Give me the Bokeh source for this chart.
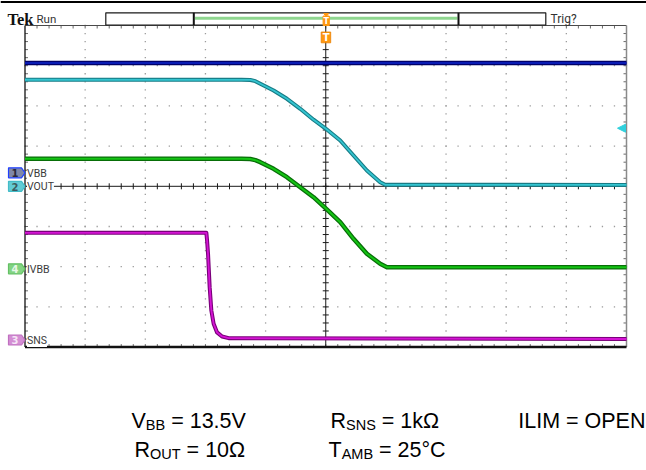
import numpy as np
from bokeh.plotting import figure
from bokeh.models import Range1d
from bokeh.core.properties import value
from bokeh.embed import file_html
from bokeh.resources import INLINE

# ---- waveform data (time and amplitude in screen divisions) ----
vbb_t = [-5.0, 5.0]
vbb_v = [3.07, 3.07]

vout_t = [-5.0, -1.40, -1.254, -1.17, -1.088, -0.867, -0.645, -0.424, -0.203,
          0.003, 0.241, 0.462, 0.684, 0.905, 0.988, 5.0]
vout_v = [2.65, 2.649, 2.645, 2.615, 2.550, 2.383, 2.177, 1.928, 1.657,
          1.430, 1.139, 0.766, 0.393, 0.102, 0.037, 0.035]

ivbb_t = [-5.0, -1.40, -1.254, -1.17, -1.088, -0.867, -0.645, -0.424, -0.203,
          0.008, 0.241, 0.462, 0.684, 0.905, 1.017, 5.0]
ivbb_v = [0.684, 0.684, 0.680, 0.650, 0.600, 0.435, 0.226, -0.022, -0.271,
          -0.560, -0.893, -1.306, -1.679, -1.928, -2.012, -2.012]

sns_t = [-5.0, -1.985, -1.973, -1.957, -1.930, -1.902, -1.864, -1.807, -1.724,
         -1.615, 5.0]
sns_v = [-1.157, -1.157, -1.348, -1.679, -2.510, -3.090, -3.420, -3.634, -3.736,
         -3.778, -3.799]

# channel ground markers: (number, name, offset in divisions)
channels = [("1", "VBB", 0.336), ("2", "VOUT", 0.0), ("4", "IVBB", -2.052), ("3", "SNS", -3.823)]
trigger_level = 1.445

# ---- canvas geometry ----
W, H = 646, 470
GL, GR, GT, GB = 24.5, 626.0, 25.0, 346.6
PPX = (GR - GL) / 10.0
PPY = (GB - GT) / 8.0
CY = (GT + GB) / 2.0

p = figure(width=W, height=H, x_range=Range1d(0, W), y_range=Range1d(H, 0),
           x_axis_type=None, y_axis_type=None, min_border=0,
           toolbar_location=None, output_backend="svg",
           background_fill_color="white", border_fill_color="white",
           outline_line_color=None)
p.extra_x_ranges = {"div": Range1d(-5 - GL / PPX, 5 + (W - GR) / PPX)}
p.extra_y_ranges = {"div": Range1d(-4 - (H - GB) / PPY, 4 + GT / PPY)}
D = dict(x_range_name="div", y_range_name="div")

minor_x = np.round(np.arange(-25, 26) * 0.2, 3)
minor_y = np.round(np.arange(-20, 21) * 0.2, 3)

# dotted graticule
dx, dy = [], []
for gx in range(-4, 5):
    if gx == 0:
        continue
    dx += [gx] * len(minor_y)
    dy += list(minor_y)
for gy in range(-3, 4):
    if gy == 0:
        continue
    dx += list(minor_x)
    dy += [gy] * len(minor_x)
p.rect(dx, dy, width=1.3, height=1.3, width_units="screen", height_units="screen",
       fill_color="#9c9c9c", line_color=None, **D)

# edge ticks
tx = minor_x[1:-1]
ty = minor_y[1:-1]
ex, ey = 3.0 / PPX, 3.0 / PPY
p.segment(tx, [4] * len(tx), tx, [4 - ey] * len(tx), line_color="#6a6a6a", line_width=1, **D)
p.segment(tx, [-4] * len(tx), tx, [-4 + ey] * len(tx), line_color="#6a6a6a", line_width=1, **D)
p.segment([-5] * len(ty), ty, [-5 + ex] * len(ty), ty, line_color="#6a6a6a", line_width=1, **D)
p.segment([5] * len(ty), ty, [5 - ex] * len(ty), ty, line_color="#6a6a6a", line_width=1, **D)

# centre cross with ticks
p.segment([-5], [0], [5], [0], line_color="#1a1a1a", line_width=1, **D)
p.segment([0], [-4], [0], [4], line_color="#1a1a1a", line_width=1, **D)
p.segment(tx, [-ey] * len(tx), tx, [ey] * len(tx), line_color="#1a1a1a", line_width=1, **D)
p.segment([-ex] * len(ty), ty, [ex] * len(ty), ty, line_color="#1a1a1a", line_width=1, **D)

# graticule frame
p.segment([-5], [4], [5], [4], line_color="#4a4a4a", line_width=1, **D)
p.segment([5], [-4], [5], [4], line_color="#8a8a8a", line_width=1.5, **D)
p.segment([-5], [-4], [-5], [4], line_color="#111111", line_width=1.3, **D)
p.segment([-5], [-4], [5], [-4], line_color="#111111", line_width=2.5, **D)

# waveforms: dark edge under a brighter core
traces = [
    (vbb_t, vbb_v, "#00006a", "#0a1cb4", 4.5, 2.0),
    (vout_t, vout_v, "#177c86", "#34c4d0", 4.0, 1.8),
    (ivbb_t, ivbb_v, "#086e08", "#14c414", 4.5, 2.0),
    (sns_t, sns_v, "#7a007a", "#d414d4", 4.0, 1.8),
]
for t, v, edge, core, w_edge, w_core in traces:
    p.line(t, v, line_color=edge, line_width=w_edge, line_join="round", **D)
    p.line(t, v, line_color=core, line_width=w_core, line_join="round", **D)

SCOPE_FONT = value("Roboto")

# channel markers and names on the left
mk_fill = {"1": "#8088a8", "2": "#62cbd4", "4": "#82d482", "3": "#d48ed4"}
mk_edge = {"1": "#2040ff", "2": "#44bcc8", "4": "#64c064", "3": "#c070c0"}
mk_txt = {"1": "#2a2a3a", "2": "#3c5c60", "4": "#e8f8e8", "3": "#f6e6f6"}
for num, name, off in channels:
    yc = CY - off * PPY
    p.patch([8, 21, 24.5, 21, 8], [yc - 5, yc - 5, yc, yc + 5, yc + 5],
            fill_color=mk_fill[num], line_color=mk_edge[num], line_width=1.2)
    p.text([14.5], [yc + 0.5], text=[num], text_font=value("DejaVu Sans"),
           text_font_size="10px", text_font_style="bold", text_color=mk_txt[num],
           text_align="center", text_baseline="middle")
    p.text([26.5], [yc + 0.5], text=[name], text_font=SCOPE_FONT,
           text_font_size="10.5px", text_color="#3a3a3a", text_align="left",
           text_baseline="middle", background_fill_color="white")

# trigger level arrow on the right edge
ty_px = CY - trigger_level * PPY
p.patch([617, 625, 625], [ty_px, ty_px - 4, ty_px + 4], fill_color="#30d0dc",
        line_color="#30d0dc", line_width=1)

# header: record bar, logo and status
p.segment([0], [1.5], [W], [1.5], line_color="#000000", line_width=2)
p.quad(left=[105.3], right=[545.3], top=[12.3], bottom=[24.5], fill_color="white",
       line_color="#1a1a1a", line_width=1.2)
p.segment([194.5], [17.7], [457], [17.7], line_color="#8fd68f", line_width=3)
p.segment([193.3, 458], [12.3, 12.3], [193.3, 458], [24.5, 24.5], line_color="#111111", line_width=2)
p.text([7], [18.5], text=["Tek"], text_font=value("Liberation Serif"), text_font_size="16.5px",
       text_font_style="bold", text_color="#111111", text_baseline="middle")
p.text([36], [18.5], text=["Run"], text_font=SCOPE_FONT, text_font_size="11.5px",
       text_color="#333333", text_baseline="middle")
p.text([550], [18.5], text=["Trig?"], text_font=SCOPE_FONT, text_font_size="12px",
       text_color="#333333", text_baseline="middle")

# trigger position markers
p.patch([323.2, 328.2, 325.7], [13, 13, 16], fill_color="#ff9810", line_color="#ff9810")
p.quad(left=[322.6], right=[328.8], top=[15.5], bottom=[25], fill_color="#ff9810", line_color="#ff9810")
p.quad(left=[320.7], right=[330.2], top=[31.5], bottom=[42.3], fill_color="#ff9810",
       line_color="#e88000", line_width=0.8)
p.text([325.7, 325.6], [20.5, 37.2], text=["T", "T"], text_font=value("DejaVu Sans"),
       text_font_size=["8px", "10px"], text_font_style="bold", text_color="white",
       text_align="center", text_baseline="middle")

# test conditions
ARIAL = {' ': 278, '=': 584, '0': 556, '1': 556, '2': 556, '3': 556, '5': 556, '.': 278,
         'V': 667, 'B': 667, 'R': 722, 'S': 667, 'N': 722, 'O': 778, 'U': 722, 'T': 611,
         'A': 667, 'M': 833, 'k': 500, 'Ω': 768, '°': 400, 'C': 722, 'I': 278, 'L': 556,
         'P': 667, 'E': 667}
F_MAIN, F_SUB = 21.5, 14.5


def text_width(s, size):
    return sum(ARIAL.get(c, 600) for c in s) * size / 1000.0


def rich(parts, x, baseline, align="left"):
    total = sum(text_width(s, F_SUB if sub else F_MAIN) for s, sub in parts)
    cur = x - total if align == "right" else x
    for s, sub in parts:
        size = F_SUB if sub else F_MAIN
        # leading blanks are collapsed in SVG text, so step over them here
        lead = len(s) - len(s.lstrip(" "))
        start = cur + text_width(" " * lead, size)
        p.text([start], [baseline + (4 if sub else 0)], text=[s.lstrip(" ")],
               text_font=value("Liberation Sans"), text_font_size=f"{size}px",
               text_color="#000000", text_align="left", text_baseline="alphabetic")
        cur += text_width(s, size)


rich([("V", False), ("BB", True), (" = 13.5V", False)], 131, 420)
rich([("R", False), ("SNS", True), (" = 1kΩ", False)], 330, 420)
rich([("ILIM = OPEN", False)], 645, 420, align="right")
rich([("R", False), ("OUT", True), (" = 10Ω", False)], 134, 449)
rich([("T", False), ("AMB", True), (" = 25°C", False)], 328, 449)

open("out.html", "w").write(file_html(p, INLINE))
